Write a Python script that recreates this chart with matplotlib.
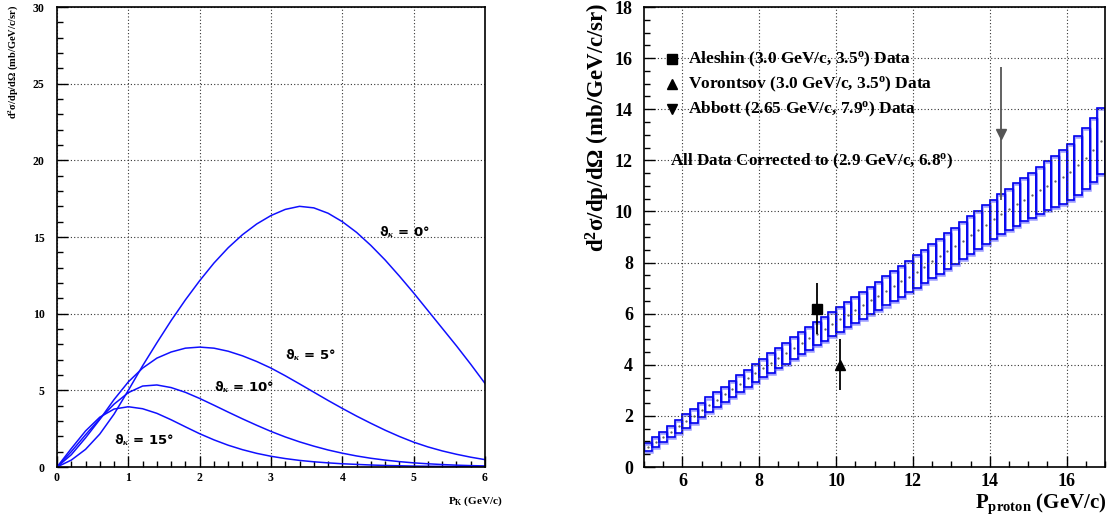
import numpy as np
import matplotlib
matplotlib.use("Agg")
import matplotlib.pyplot as plt
from matplotlib.patches import Rectangle
from matplotlib.ticker import MultipleLocator

plt.rcParams["font.family"] = ["Liberation Serif", "DejaVu Serif"]
plt.rcParams["font.weight"] = "bold"
plt.rcParams["mathtext.fontset"] = "custom"
plt.rcParams["mathtext.rm"] = "Liberation Serif:bold"
plt.rcParams["mathtext.it"] = "Liberation Serif:italic:bold"
plt.rcParams["mathtext.bf"] = "Liberation Serif:bold"

# left panel: kaon spectra for several angles
pk = [0.0, 0.2, 0.4, 0.6, 0.8, 1.0, 1.2, 1.4, 1.6, 1.8, 2.0, 2.2, 2.4, 2.6, 2.8, 3.0,
      3.2, 3.4, 3.6, 3.8, 4.0, 4.2, 4.4, 4.6, 4.8, 5.0, 5.2, 5.4, 5.6, 5.8, 6.0]
theta0 = [0.0, 0.45, 1.15, 2.15, 3.45, 5.0, 6.6, 8.1, 9.55, 10.9, 12.15, 13.3, 14.3, 15.15,
          15.85, 16.4, 16.8, 17.0, 16.9, 16.55, 16.0, 15.3, 14.45, 13.5, 12.45, 11.35,
          10.2, 9.05, 7.9, 6.7, 5.45]
theta5 = [0.0, 0.8, 1.9, 3.1, 4.4, 5.55, 6.45, 7.1, 7.5, 7.75, 7.82, 7.75, 7.55, 7.25, 6.88,
          6.45, 5.95, 5.42, 4.88, 4.34, 3.82, 3.32, 2.85, 2.4, 1.99, 1.62, 1.31, 1.05, 0.83,
          0.64, 0.48]
theta10 = [0.0, 1.0, 2.1, 3.15, 4.1, 4.85, 5.28, 5.35, 5.18, 4.87, 4.47, 4.03, 3.58, 3.14,
           2.72, 2.32, 1.96, 1.64, 1.36, 1.11, 0.9, 0.72, 0.57, 0.45, 0.35, 0.27, 0.21, 0.16,
           0.12, 0.09, 0.07]
theta15 = [0.0, 1.2, 2.35, 3.25, 3.78, 3.93, 3.8, 3.5, 3.08, 2.62, 2.17, 1.77, 1.42, 1.13,
           0.89, 0.7, 0.55, 0.43, 0.34, 0.27, 0.21, 0.17, 0.13, 0.1, 0.08, 0.06, 0.05, 0.04,
           0.03, 0.03, 0.02]
curve_labels = ["ϑ$_{κ}$ = 0°", "ϑ$_{κ}$ = 5°", "ϑ$_{κ}$ = 10°", "ϑ$_{κ}$ = 15°"]
label_pos = [(4.52, 15.3), (3.2, 7.3), (2.2, 5.2), (0.8, 1.75)]

# right panel: corrected prediction boxes (bin width 0.2 GeV/c)
p_lo = [5.0 + 0.2 * i for i in range(60)]
box_mid = [0.78, 0.98, 1.18, 1.38, 1.59, 1.80, 2.01, 2.22, 2.43, 2.64,
           2.85, 3.06, 3.26, 3.47, 3.67, 3.88, 4.07, 4.26, 4.45, 4.65,
           4.84, 5.03, 5.22, 5.40, 5.59, 5.78, 5.96, 6.15, 6.33, 6.52,
           6.70, 6.89, 7.08, 7.26, 7.45, 7.64, 7.84, 8.05, 8.25, 8.46,
           8.66, 8.86, 9.07, 9.27, 9.48, 9.69, 9.90, 10.09, 10.28, 10.46,
           10.64, 10.82, 11.0, 11.18, 11.36, 11.55, 11.80, 12.08, 12.40, 12.74]
box_half = [0.17, 0.18, 0.20, 0.22, 0.24, 0.26, 0.27, 0.28, 0.29, 0.30,
            0.30, 0.31, 0.33, 0.34, 0.35, 0.36, 0.38, 0.39, 0.40, 0.42,
            0.43, 0.44, 0.45, 0.47, 0.48, 0.49, 0.50, 0.52, 0.53, 0.54,
            0.55, 0.57, 0.59, 0.61, 0.62, 0.64, 0.65, 0.67, 0.68, 0.70,
            0.71, 0.72, 0.74, 0.75, 0.76, 0.77, 0.78, 0.80, 0.83, 0.85,
            0.88, 0.92, 0.96, 1.00, 1.05, 1.10, 1.14, 1.19, 1.24, 1.29]

data_names = ["Aleshin (3.0 GeV/c, 3.5$^{\\rm o}$) Data",
              "Vorontsov (3.0 GeV/c, 3.5$^{\\rm o}$) Data",
              "Abbott (2.65 GeV/c, 7.9$^{\\rm o}$) Data"]
data_x = [9.5, 10.1, 14.3]
data_y = [6.2, 4.0, 13.05]
data_err = [1.0, 1.0, 2.6]
data_marker = ["s", "^", "v"]
data_color = ["black", "black", "#555555"]

W, H = 1110, 519
fig = plt.figure(figsize=(W / 100, H / 100), dpi=100)

def style(ax, fs):
    ax.tick_params(which="both", direction="in", top=False, right=False, labelsize=fs,
                   width=1.0)
    ax.tick_params(which="major", length=8)
    ax.tick_params(which="minor", length=4)
    ax.grid(True, which="major", linestyle=(0, (1, 2)), color="#333333", linewidth=0.8)
    for s in ax.spines.values():
        s.set_linewidth(1.2)
    for lab in ax.get_xticklabels() + ax.get_yticklabels():
        lab.set_fontweight("bold")

# ---- left panel
ax1 = fig.add_axes([57 / W, 52 / H, 428 / W, 460 / H])
for yv in [theta0, theta5, theta10, theta15]:
    ax1.plot(pk, yv, color="#1010ff", lw=1.1)
for lab, (x, y) in zip(curve_labels, label_pos):
    ax1.text(x, y, lab, family=["DejaVu Sans"], fontsize=9.5, fontweight="bold",
             va="center", ha="left")
ax1.set_xlim(0, 6)
ax1.set_ylim(0, 30)
ax1.xaxis.set_major_locator(MultipleLocator(1))
ax1.xaxis.set_minor_locator(MultipleLocator(0.2))
ax1.yaxis.set_major_locator(MultipleLocator(5))
ax1.yaxis.set_minor_locator(MultipleLocator(1))
style(ax1, 8.5)
ax1.tick_params(axis="y", pad=9)
fig.text(13 / W, 1 - 5 / H, "d$^2$σ/dp/dΩ (mb/GeV/c/sr)", rotation=90, ha="center",
         va="top", fontsize=7.5, fontweight="bold")
fig.text(503 / W, 1 - 501 / H, "P$_{\\rm K}$ (GeV/c)", ha="right", va="center",
         fontsize=8, fontweight="bold")

# ---- right panel
ax2 = fig.add_axes([644 / W, 52 / H, 461 / W, 460 / H])
for x0, m, h in zip(p_lo, box_mid, box_half):
    ax2.add_patch(Rectangle((x0, m - h - 0.04), 0.2, 2 * h, fill=False,
                            edgecolor="#5c5cff", lw=1.8, alpha=0.6))
    ax2.add_patch(Rectangle((x0, m - h), 0.2, 2 * h, fill=False,
                            edgecolor="#0000ee", lw=1.2))
ax2.plot([x + 0.1 for x in p_lo], box_mid, ls="none", marker=".", ms=1.2, color="#555555")
for x, y, e, mk, c in zip(data_x, data_y, data_err, data_marker, data_color):
    ax2.errorbar(x, y, yerr=e, fmt=mk, color=c, ms=7, elinewidth=1.3, capsize=0)

leg_y = [15.95, 14.98, 13.99]
for name, y, mk in zip(data_names, leg_y, data_marker):
    ax2.plot(5.74, y, marker=mk, color="black", ms=6.5, ls="none")
    ax2.text(6.15, y, name, fontsize=12.5, fontweight="bold", va="center", ha="left")
ax2.text(5.68, 11.95, "All Data Corrected to (2.9 GeV/c, 6.8$^{\\rm o}$)", fontsize=12.3,
         fontweight="bold", va="center", ha="left")

ax2.set_xlim(5, 17)
ax2.set_ylim(0, 18)
ax2.xaxis.set_major_locator(MultipleLocator(2))
ax2.xaxis.set_minor_locator(MultipleLocator(0.5))
ax2.yaxis.set_major_locator(MultipleLocator(2))
ax2.yaxis.set_minor_locator(MultipleLocator(0.5))
style(ax2, 13)
ax2.tick_params(axis="y", pad=8)
ax2.tick_params(axis="x", pad=4)
fig.text(598 / W, 1 - 3 / H, "d$^2$σ/dp/dΩ (mb/GeV/c/sr)", rotation=90, ha="center",
         va="top", fontsize=16.5, fontweight="bold")
fig.text(1106 / W, 1 - 504 / H, "P$_{\\rm proton}$ (GeV/c)", ha="right", va="center",
         fontsize=15, fontweight="bold")

fig.savefig("out.png", dpi=100)
